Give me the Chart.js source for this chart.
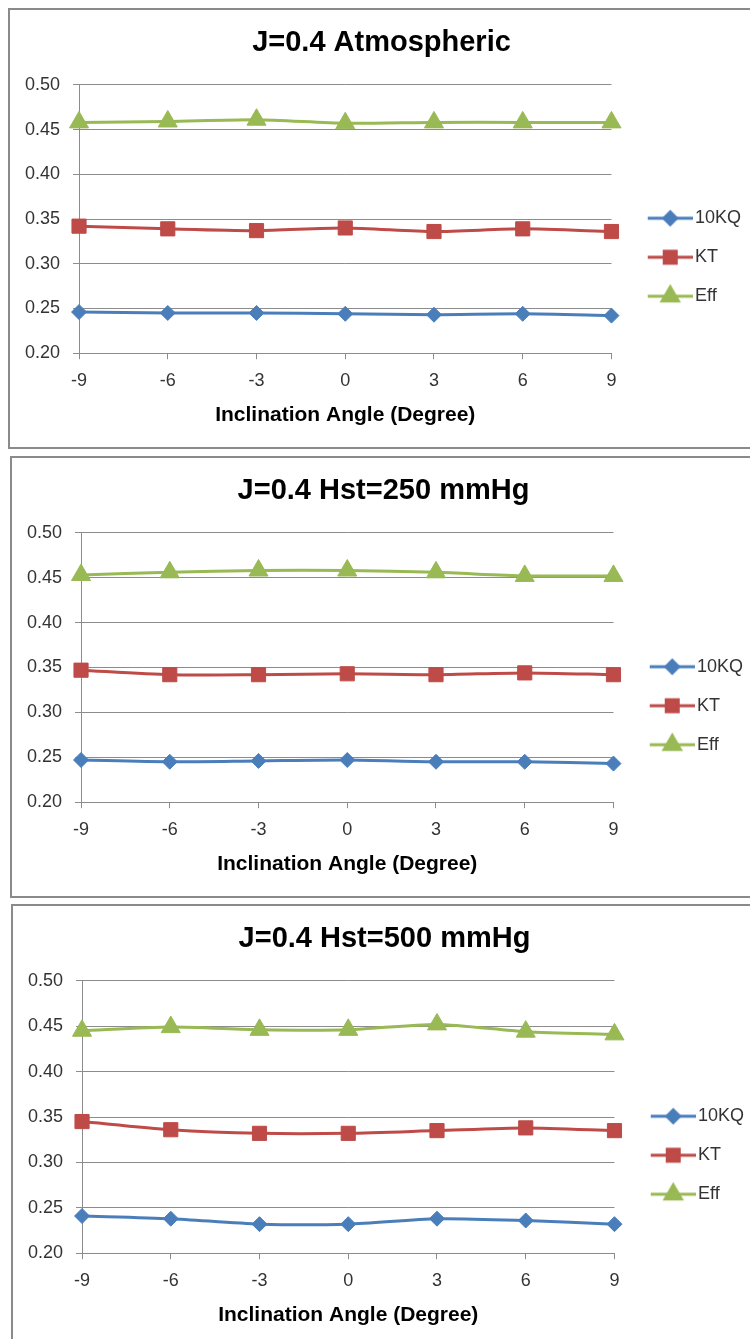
<!DOCTYPE html>
<html>
<head>
<meta charset="utf-8">
<script src="https://cdn.jsdelivr.net/npm/chart.js@4.4.1/dist/chart.umd.min.js"></script>
<style>
  html, body { margin: 0; padding: 0; background: #fff; width: 750px; height: 1339px; overflow: hidden; }
  .panel { position: absolute; border: 2px solid #8a8a8a; background: #fff; }
  .panel canvas { display: block; }
</style>
</head>
<body>
<div class="panel" style="left:8px; top:8px; width:770px; height:437px;"><canvas id="chart-atm" width="741" height="437"></canvas></div>
<div class="panel" style="left:10px; top:456px; width:770px; height:438px;"><canvas id="chart-250" width="741" height="438"></canvas></div>
<div class="panel" style="left:11px; top:904px; width:770px; height:441px;"><canvas id="chart-500" width="741" height="441"></canvas></div>
<script>
// Categories and series
const angles = ['-9', '-6', '-3', '0', '3', '6', '9'];
const seriesNames = ['10KQ', 'KT', 'Eff'];
const yTicks = [0.20, 0.25, 0.30, 0.35, 0.40, 0.45, 0.50];

const kqAtm = [0.246, 0.245, 0.245, 0.244, 0.243, 0.244, 0.242];
const ktAtm = [0.342, 0.339, 0.337, 0.340, 0.336, 0.339, 0.336];
const effAtm = [0.458, 0.459, 0.461, 0.457, 0.458, 0.458, 0.458];

const kq250 = [0.247, 0.245, 0.246, 0.247, 0.245, 0.245, 0.243];
const kt250 = [0.347, 0.342, 0.342, 0.343, 0.342, 0.344, 0.342];
const eff250 = [0.453, 0.456, 0.458, 0.458, 0.456, 0.452, 0.452];

const kq500 = [0.241, 0.238, 0.232, 0.232, 0.238, 0.236, 0.232];
const kt500 = [0.345, 0.336, 0.332, 0.332, 0.335, 0.338, 0.335];
const eff500 = [0.445, 0.449, 0.446, 0.446, 0.452, 0.444, 0.441];

// Styles
const seriesColors = ['#4a7ebb', '#be4b48', '#98b954'];
const seriesStyles = ['rectRot', 'rect', 'triangle'];
const seriesRadius = [7.5, 10, 11];
const gridColor = '#8c8c8c';
const fontFamily = '"Liberation Sans", Arial, sans-serif';

// Legend icon: a short line with the marker in its middle (Excel style)
function makeLegendIcon(i) {
    const c = document.createElement('canvas');
    c.width = 67;
    c.height = 26;
    const ctx = c.getContext('2d');
    ctx.strokeStyle = seriesColors[i];
    ctx.fillStyle = seriesColors[i];
    ctx.lineWidth = 3;
    ctx.beginPath();
    ctx.moveTo(22, 13);
    ctx.lineTo(67, 13);
    ctx.stroke();
    Chart.helpers.drawPoint(ctx, {
        pointStyle: seriesStyles[i],
        radius: seriesRadius[i] * 0.85,
        rotation: 0,
        borderWidth: 1
    }, 44.5, 13);
    return c;
}

function buildChart(canvasId, titleText, kq, kt, eff) {
    const ctx = document.getElementById(canvasId).getContext('2d');
    const values = [kq, kt, eff];
    const icons = [0, 1, 2].map(makeLegendIcon);

    return new Chart(ctx, {
        type: 'line',
        data: {
            labels: angles,
            datasets: values.map((v, i) => ({
                label: seriesNames[i],
                data: v,
                borderColor: seriesColors[i],
                backgroundColor: seriesColors[i],
                borderWidth: 3,
                tension: 0.25,
                pointStyle: seriesStyles[i],
                pointRadius: seriesRadius[i],
                pointHoverRadius: seriesRadius[i],
                pointBorderWidth: 1
            }))
        },
        options: {
            responsive: false,
            maintainAspectRatio: false,
            animation: false,
            devicePixelRatio: 1,
            layout: {
                padding: { left: 2, right: 0, top: 0, bottom: 19 }
            },
            plugins: {
                title: {
                    display: true,
                    text: titleText,
                    color: '#000',
                    font: { family: fontFamily, size: 29, weight: 'bold' },
                    padding: { top: 16, bottom: 24 }
                },
                legend: {
                    position: 'right',
                    align: 'center',
                    title: {
                        display: true,
                        text: '',
                        font: { size: 12 },
                        padding: { top: 62, bottom: 0 }
                    },
                    labels: {
                        usePointStyle: true,
                        pointStyleWidth: 53.5,
                        padding: 21,
                        color: '#333',
                        font: { family: fontFamily, size: 18 },
                        generateLabels: (chart) => {
                            const items = Chart.defaults.plugins.legend.labels.generateLabels(chart);
                            items.forEach((item, i) => { item.pointStyle = icons[i]; });
                            return items;
                        }
                    }
                },
                tooltip: { enabled: false }
            },
            scales: {
                x: {
                    type: 'category',
                    offset: false,
                    grid: {
                        drawOnChartArea: false,
                        drawTicks: true,
                        tickLength: 6,
                        color: gridColor
                    },
                    border: { display: true, color: gridColor },
                    ticks: {
                        color: '#333',
                        padding: 11,
                        maxRotation: 0,
                        font: { family: fontFamily, size: 18 }
                    },
                    title: {
                        display: true,
                        text: 'Inclination Angle (Degree)',
                        color: '#000',
                        font: { family: fontFamily, size: 21, weight: 'bold' },
                        padding: { top: 0, bottom: 0 }
                    }
                },
                y: {
                    min: yTicks[0],
                    max: yTicks[yTicks.length - 1],
                    afterBuildTicks: (scale) => {
                        scale.ticks = yTicks.map(v => ({ value: v }));
                    },
                    grid: {
                        color: gridColor,
                        drawTicks: true,
                        tickLength: 6
                    },
                    border: { display: true, color: gridColor },
                    ticks: {
                        color: '#333',
                        padding: 13,
                        font: { family: fontFamily, size: 18 },
                        callback: (v) => Number(v).toFixed(2)
                    }
                }
            }
        }
    });
}

buildChart('chart-atm', 'J=0.4 Atmospheric', kqAtm, ktAtm, effAtm);
buildChart('chart-250', 'J=0.4 Hst=250 mmHg', kq250, kt250, eff250);
buildChart('chart-500', 'J=0.4 Hst=500 mmHg', kq500, kt500, eff500);
</script>
</body>
</html>
